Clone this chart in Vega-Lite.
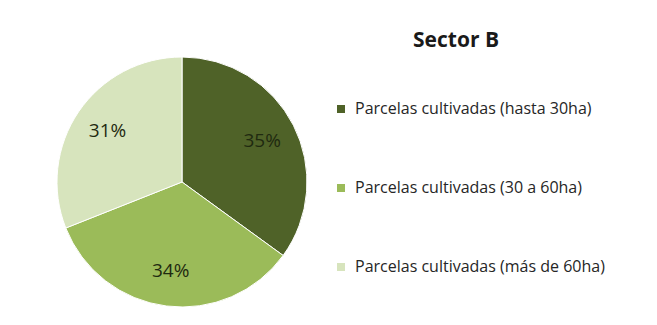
{
  "$schema": "https://vega.github.io/schema/vega-lite/v6.json",
  "autosize": {"type": "none"},
  "width": 250,
  "height": 250,
  "padding": {"left": 57, "top": 57, "right": 350, "bottom": 18},
  "background": "white",
  "title": {
    "text": "Sector B",
    "anchor": "middle",
    "dx": 274,
    "offset": 4,
    "font": "Open Sans",
    "fontSize": 21,
    "fontWeight": "bold",
    "color": "#1a1a1a"
  },
  "data": {
    "values": [
      {"categoria": "Parcelas cultivadas (hasta 30ha)", "orden": 1, "valor": 35, "etiqueta": "35%"},
      {"categoria": "Parcelas cultivadas (30 a 60ha)", "orden": 2, "valor": 34, "etiqueta": "34%"},
      {"categoria": "Parcelas cultivadas (más de 60ha)", "orden": 3, "valor": 31, "etiqueta": "31%"}
    ]
  },
  "encoding": {
    "theta": {"field": "valor", "type": "quantitative", "stack": true},
    "order": {"field": "orden", "type": "ordinal"},
    "color": {
      "field": "categoria",
      "type": "nominal",
      "sort": ["Parcelas cultivadas (hasta 30ha)", "Parcelas cultivadas (30 a 60ha)", "Parcelas cultivadas (más de 60ha)"],
      "scale": {
        "domain": ["Parcelas cultivadas (hasta 30ha)", "Parcelas cultivadas (30 a 60ha)", "Parcelas cultivadas (más de 60ha)"],
        "range": ["#4f6228", "#9bbb59", "#d7e4bd"]
      },
      "legend": {
        "title": null,
        "orient": "none",
        "legendX": 276,
        "legendY": 44,
        "symbolType": "square",
        "symbolSize": 64,
        "symbolStrokeWidth": 0,
        "labelFont": "Open Sans",
        "labelFontSize": 16,
        "labelColor": "#262626",
        "labelOffset": 6,
        "rowPadding": 63,
        "labelLimit": 400
      }
    }
  },
  "layer": [
    {
      "mark": {"type": "arc", "outerRadius": 125, "stroke": "white", "strokeWidth": 1}
    },
    {
      "mark": {"type": "text", "radius": 90, "font": "Open Sans", "fontSize": 19},
      "encoding": {
        "text": {"field": "etiqueta", "type": "nominal"},
        "color": {"value": "#1f2a10"}
      }
    }
  ]
}
